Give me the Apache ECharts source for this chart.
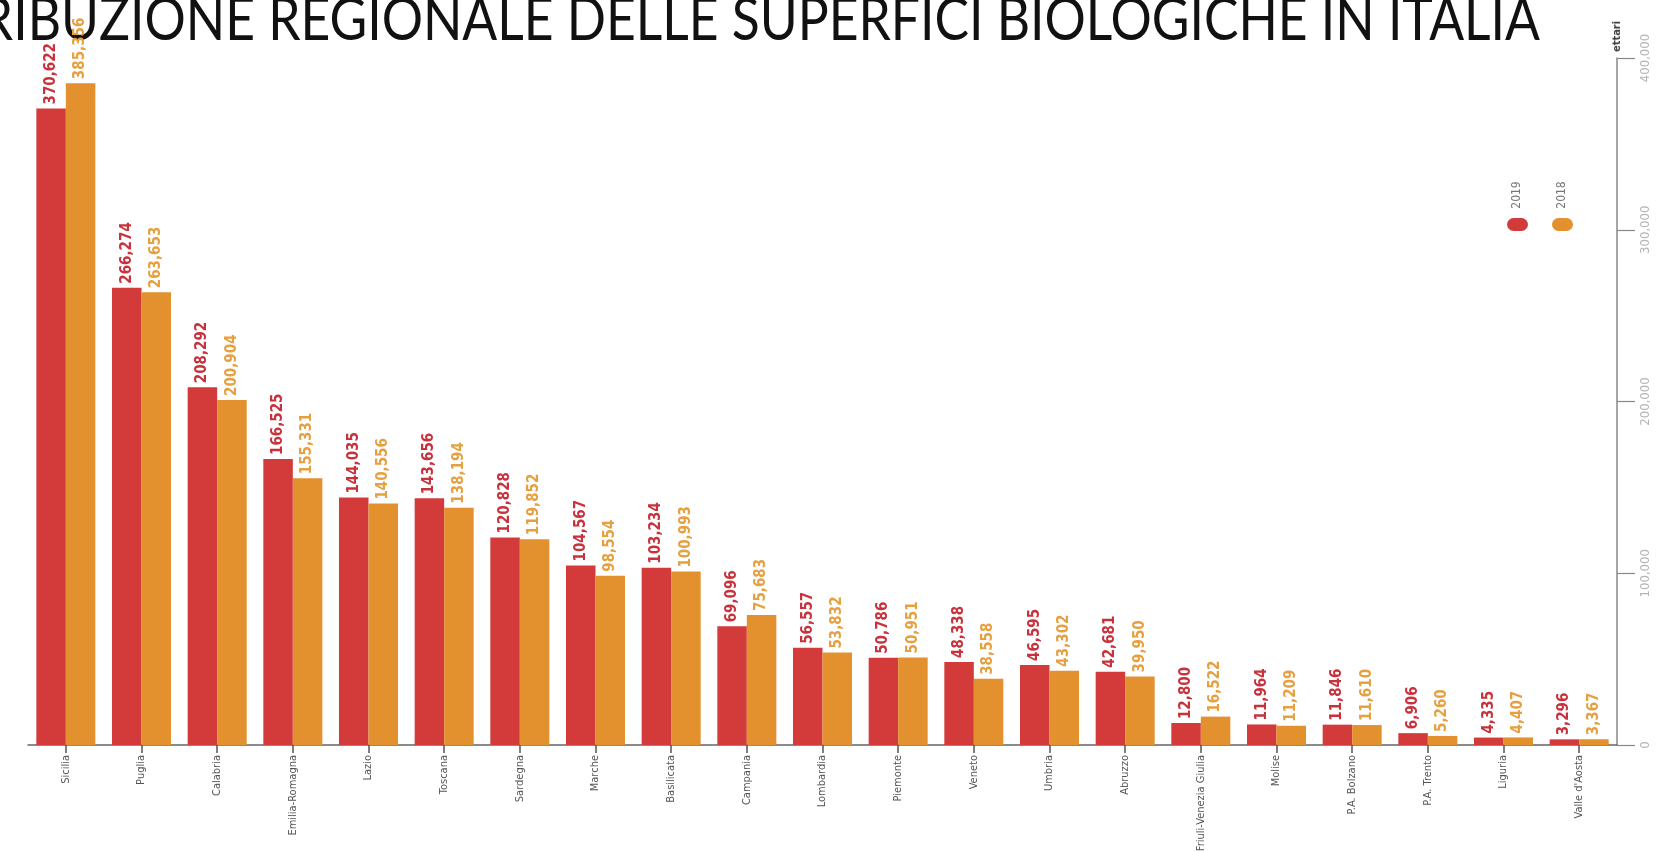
<!DOCTYPE html>
<html>
<head>
<meta charset="utf-8">
<script src="https://cdn.jsdelivr.net/npm/echarts@6/dist/echarts.min.js"></script>
<style>
  html, body { margin: 0; padding: 0; background: #ffffff; }
  #chart { width: 1663px; height: 851px; }
</style>
</head>
<body>
<div id="chart"></div>
<script>
// Superfici biologiche per regione (ettari)
const regioni = [
  'Sicilia', 'Puglia', 'Calabria', 'Emilia-Romagna', 'Lazio', 'Toscana', 'Sardegna',
  'Marche', 'Basilicata', 'Campania', 'Lombardia', 'Piemonte', 'Veneto', 'Umbria',
  'Abruzzo', 'Friuli-Venezia Giulia', 'Molise', 'P.A. Bolzano', 'P.A. Trento',
  'Liguria', "Valle d'Aosta"
];
const ettari2019 = [
  370622, 266274, 208292, 166525, 144035, 143656, 120828, 104567, 103234, 69096,
  56557, 50786, 48338, 46595, 42681, 12800, 11964, 11846, 6906, 4335, 3296
];
const ettari2018 = [
  385356, 263653, 200904, 155331, 140556, 138194, 119852, 98554, 100993, 75683,
  53832, 50951, 38558, 43302, 39950, 16522, 11209, 11610, 5260, 4407, 3367
];
const anni = ['2019', '2018'];
const assiY = { min: 0, max: 400000, interval: 100000 };
const titolo = 'DISTRIBUZIONE REGIONALE DELLE SUPERFICI BIOLOGICHE IN ITALIA';

const ROSSO = '#d33b3b';
const ARANCIO = '#e3902f';
const NARROW = '"DejaVu Sans Condensed", "Liberation Sans Narrow", sans-serif';

const fmt = v => v.toLocaleString('en-US');

function valueLabel(color) {
  return {
    show: true,
    position: 'top',
    rotate: 90,
    align: 'left',
    verticalAlign: 'middle',
    distance: 4,
    color: color,
    fontFamily: NARROW,
    fontWeight: 'bold',
    fontSize: 15,
    formatter: p => fmt(p.value)
  };
}

const chart = echarts.init(document.getElementById('chart'), null, { renderer: 'canvas' });

chart.setOption({
  animation: false,
  backgroundColor: '#ffffff',
  grid: { left: 28, right: 46, top: 58, bottom: 106, containLabel: false, outerBoundsMode: 'none' },
  xAxis: {
    type: 'category',
    data: regioni,
    axisLine: { show: true, lineStyle: { color: '#666666', width: 1.5 } },
    axisTick: { show: true, alignWithLabel: true, length: 8, lineStyle: { color: '#555555', width: 1.5 } },
    axisLabel: {
      rotate: 90,
      margin: 10,
      interval: 0,
      color: '#555555',
      fontFamily: NARROW,
      fontSize: 11
    }
  },
  yAxis: {
    type: 'value',
    position: 'right',
    min: assiY.min,
    max: assiY.max,
    interval: assiY.interval,
    name: 'ettari',
    nameLocation: 'end',
    nameRotate: 90,
    nameGap: 6,
    nameTextStyle: {
      color: '#444444',
      fontFamily: NARROW,
      fontWeight: 'bold',
      fontSize: 11,
      align: 'left',
      verticalAlign: 'middle'
    },
    splitLine: { show: false },
    axisLine: { show: true, lineStyle: { color: '#888888', width: 1.5 } },
    axisTick: { show: true, length: 18, lineStyle: { color: '#888888', width: 1.2 } },
    axisLabel: {
      rotate: 90,
      margin: 22,
      color: '#b5b5b5',
      fontFamily: NARROW,
      fontSize: 13,
      formatter: v => fmt(v)
    }
  },
  series: [
    {
      name: anni[0],
      type: 'bar',
      data: ettari2019,
      barGap: '0%',
      barCategoryGap: '22%',
      itemStyle: { color: ROSSO },
      label: valueLabel('#c8323c')
    },
    {
      name: anni[1],
      type: 'bar',
      data: ettari2018,
      barGap: '0%',
      barCategoryGap: '22%',
      itemStyle: { color: ARANCIO },
      label: valueLabel('#e6a040')
    }
  ],
  graphic: [
    // titolo, allineato a destra e condensato in orizzontale
    {
      type: 'text', x: 1540, y: 51, scaleX: 0.86, scaleY: 1,
      style: {
        text: titolo, fill: '#111111',
        font: '60px Lato, "Open Sans", sans-serif',
        align: 'right', verticalAlign: 'bottom'
      }
    },
    // legenda
    { type: 'rect', shape: { x: 1507, y: 218, width: 21, height: 13, r: 6.5 }, style: { fill: ROSSO } },
    { type: 'rect', shape: { x: 1552, y: 218, width: 21, height: 13, r: 6.5 }, style: { fill: ARANCIO } },
    {
      type: 'text', x: 1517, y: 195, rotation: Math.PI / 2,
      style: { text: anni[0], fill: '#777777', font: '12px ' + NARROW, align: 'center', verticalAlign: 'middle' }
    },
    {
      type: 'text', x: 1562, y: 195, rotation: Math.PI / 2,
      style: { text: anni[1], fill: '#777777', font: '12px ' + NARROW, align: 'center', verticalAlign: 'middle' }
    }
  ]
});
</script>
</body>
</html>
